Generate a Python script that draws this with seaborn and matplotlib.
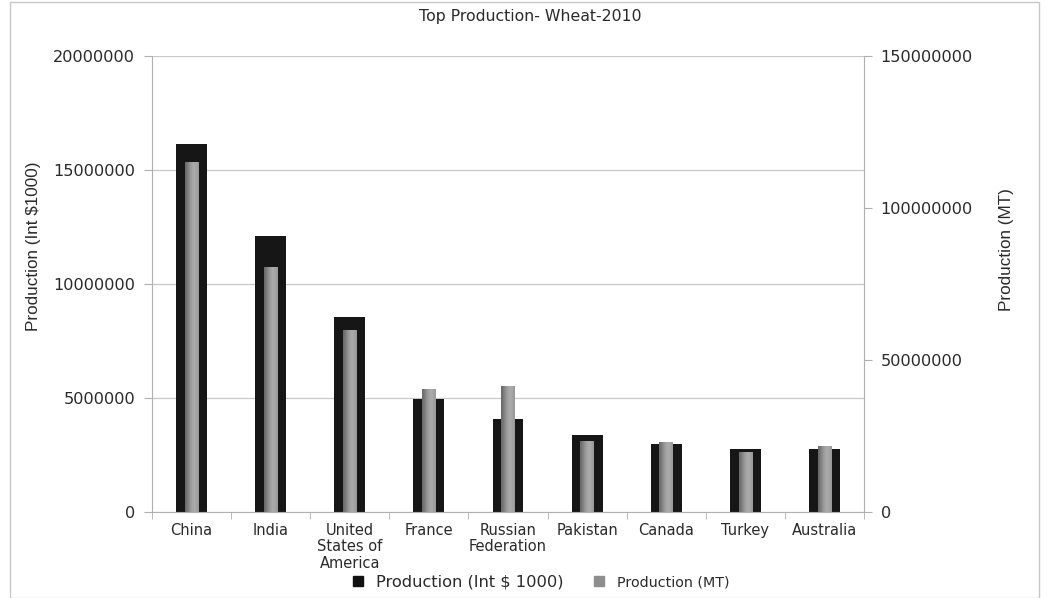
import matplotlib
matplotlib.use("Agg")
import matplotlib.pyplot as plt
import seaborn as sns
import pandas as pd
import numpy as np
from matplotlib.lines import Line2D
from matplotlib.patches import Rectangle
from matplotlib import font_manager

countries = ["China", "India", "United\nStates of\nAmerica", "France", "Russian\nFederation",
             "Pakistan", "Canada", "Turkey", "Australia"]
value_int = [16150000, 12120000, 8550000, 4970000, 4060000, 3380000, 3000000, 2780000, 2760000]
value_mt = [115100000, 80700000, 60000000, 40600000, 41300000, 23300000, 22900000, 19600000, 21800000]
left_ticks = [0, 5000000, 10000000, 15000000, 20000000]
right_ticks = [0, 50000000, 100000000, 150000000]
title = "Top Production- Wheat-2010"
label_left = "Production (Int $1000)"
label_right = "Production (MT)"
legend_labels = ["Production (Int $ 1000)", "Production (MT)"]

sns.set_style("white")
plt.rcParams['font.family'] = ['DejaVu Sans']

names = {f.name for f in font_manager.fontManager.ttflist}
narrow = 'Liberation Sans Narrow' if 'Liberation Sans Narrow' in names else 'Liberation Sans'

df = pd.DataFrame({"country": countries, "int": value_int, "mt": value_mt})

fig = plt.figure(figsize=(10.49, 5.98), dpi=100)
ax = fig.add_axes([152/1049, 1-512/598, (864-152)/1049, (512-56)/598])
ax2 = ax.twinx()

sns.barplot(data=df, x="country", y="int", ax=ax, color="#161616", width=0.39,
            saturation=1, edgecolor="none")
sns.barplot(data=df, x="country", y="mt", ax=ax2, color="#8e8e8e", width=0.17,
            saturation=1, edgecolor="none")

ax.set_ylim(0, 20000000)
ax2.set_ylim(0, 150000000)
ax.set_xlim(-0.5, len(countries) - 0.5)

# horizontal gradient on the grey bars, clipped to each bar
grad = np.array([[0.42, 0.50, 0.58, 0.64, 0.67, 0.66, 0.60]])
for p in ax2.patches:
    x0, y0 = p.get_x(), p.get_y()
    w, h = p.get_width(), p.get_height()
    im = ax2.imshow(grad, cmap="gray", vmin=0, vmax=1, aspect="auto",
                    extent=[x0, x0 + w, y0, y0 + h], interpolation="bicubic", zorder=p.get_zorder() + 0.1)
    im.set_clip_path(p)
ax.set_xlim(-0.5, len(countries) - 0.5)
ax2.set_ylim(0, 150000000)

ax.set_yticks(left_ticks)
ax.set_yticklabels([str(t) for t in left_ticks])
ax2.set_yticks(right_ticks)
ax2.set_yticklabels([str(t) for t in right_ticks])

ax.set_axisbelow(True)
ax.yaxis.grid(True, color="#c8c8c8", linewidth=0.9)
ax.xaxis.grid(False)

gc = "#b0b0b0"
for a in (ax, ax2):
    for s in a.spines.values():
        s.set_visible(False)
ax.spines['left'].set_visible(True)
ax.spines['left'].set_color(gc)
ax.spines['bottom'].set_visible(True)
ax.spines['bottom'].set_color(gc)
ax2.spines['right'].set_visible(True)
ax2.spines['right'].set_color(gc)

tc = "#2a2a2a"
ax.tick_params(axis='y', length=6, color=gc, labelsize=11.6, labelcolor=tc, pad=6, left=True)
ax2.tick_params(axis='y', length=6, color=gc, labelsize=11.6, labelcolor=tc, pad=6, right=True)
ax.tick_params(axis='x', length=0, labelsize=10.5, labelcolor=tc, pad=8)
for t in ax.get_xticklabels():
    t.set_linespacing(1.1)
ax.set_xticks([i - 0.5 for i in range(len(countries) + 1)], minor=True)
ax.tick_params(axis='x', which='minor', length=5, color=gc, bottom=True)

ax.set_xlabel("")
ax.set_ylabel(label_left, family=narrow, fontsize=12.3, color=tc)
ax2.set_ylabel(label_right, family=narrow, fontsize=12.3, color=tc)
ax.yaxis.set_label_coords((41 - 152) / 712, (512 - 246) / 456)
ax2.yaxis.set_label_coords((999 - 152) / 712, (512 - 250) / 456)

fig.text(530/1049, 1-17/598, title, ha="center", va="center", fontsize=11.3, color=tc)

handles = [Line2D([], [], marker='s', linestyle='none', color="#111111", markersize=7.5),
           Line2D([], [], marker='s', linestyle='none', color="#8e8e8e", markersize=6.5)]
leg = fig.legend(handles, legend_labels, loc="center", bbox_to_anchor=(536/1049, 1-582/598),
                 ncol=2, frameon=False, handletextpad=0.1, columnspacing=1.2, fontsize=11.7)
texts = leg.get_texts()
texts[0].set_fontsize(11.7)
texts[1].set_fontsize(10.3)
for t in texts:
    t.set_color(tc)

fig.patches.append(Rectangle((10/1049, 0), 1 - 20/1049, 1 - 1.5/598, transform=fig.transFigure,
                             fill=False, edgecolor="#c8c8c8", linewidth=1))

fig.savefig("out.png", dpi=100)
